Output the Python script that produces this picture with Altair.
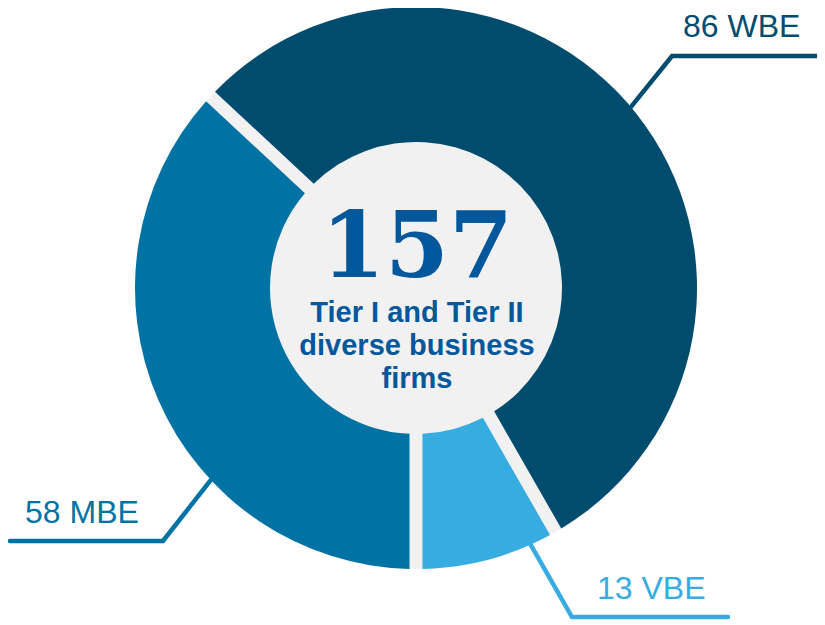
import math
import altair as alt
import pandas as pd

# ---- data ----
categories = ["VBE", "MBE", "WBE"]
values = [13, 58, 86]
label_texts = ["13 VBE", "58 MBE", "86 WBE"]
total_text = "157"
subtitle_lines = ["Tier I and Tier II", "diverse business", "firms"]

# ---- styles / layout ----
W, H = 809, 612
CX, CY = 408, 280
R_OUT, R_IN = 281, 146
GRAY = "#f1f1f1"
colors = {"VBE": "#36ace1", "MBE": "#0073a4", "WBE": "#004c6f"}
TEXT_BLUE = "#03579b"
start_deg = 180 - 360 * values[0] / sum(values)  # VBE/MBE boundary points straight down
start = math.radians(start_deg)

seg = pd.DataFrame({"cat": categories, "value": values, "ord": [0, 1, 2]})
theta_enc = alt.Theta("value:Q", stack=True,
                      scale=alt.Scale(range=[start, start + 2 * math.pi]))
cscale = alt.Scale(domain=categories, range=[colors[c] for c in categories])

base_full = alt.Chart(seg).mark_arc(
    outerRadius=R_OUT, innerRadius=0, color=GRAY, x=CX, y=CY
).encode(theta=theta_enc, order=alt.Order("ord:Q"))

ring = alt.Chart(seg).mark_arc(
    outerRadius=R_OUT, innerRadius=R_IN, padAngle=0.041, x=CX, y=CY
).encode(
    theta=theta_enc,
    color=alt.Color("cat:N", scale=cscale, legend=None),
    order=alt.Order("ord:Q"),
)

# leader lines: start on ring edge at a given angle, elbow, end
leader_angles = {"WBE": 50, "MBE": 227, "VBE": 156}
leader_elbow = {"WBE": (664, 48), "MBE": (155, 533), "VBE": (564, 609)}
leader_end = {"WBE": (809, 48), "MBE": (2, 533), "VBE": (720, 609)}
rows = []
for c in categories:
    a = math.radians(leader_angles[c])
    r = R_OUT - 3
    sx, sy = CX + r * math.sin(a), CY - r * math.cos(a)
    for i, (px, py) in enumerate([(sx, sy), leader_elbow[c], leader_end[c]]):
        rows.append({"cat": c, "i": i, "px": px, "py": py})
lead = pd.DataFrame(rows)

xs = alt.Scale(domain=[0, W], range=[0, W])
ys = alt.Scale(domain=[0, H], range=[0, H])

lines = alt.Chart(lead).mark_line(strokeWidth=4.5, strokeCap="round", strokeJoin="miter").encode(
    x=alt.X("px:Q", scale=xs, axis=None),
    y=alt.Y("py:Q", scale=ys, axis=None),
    color=alt.Color("cat:N", scale=cscale, legend=None),
    detail="cat:N",
    order="i:Q",
)

label_pos = {"WBE": (675, 29), "MBE": (17, 515), "VBE": (589, 591)}
lab = pd.DataFrame({
    "cat": categories,
    "t": label_texts,
    "px": [label_pos[c][0] for c in categories],
    "py": [label_pos[c][1] for c in categories],
})
labels = alt.Chart(lab).mark_text(
    align="left", baseline="alphabetic", font="Liberation Sans", fontSize=32
).encode(
    x=alt.X("px:Q", scale=xs, axis=None),
    y=alt.Y("py:Q", scale=ys, axis=None),
    text="t:N",
    color=alt.Color("cat:N", scale=cscale, legend=None),
)

big = alt.Chart(pd.DataFrame({"t": [total_text]})).mark_text(
    font="DejaVu Serif", fontWeight="bold", fontSize=92,
    color=TEXT_BLUE, align="center", baseline="alphabetic", x=CX + 1, y=269
).encode(text="t:N")

sub = alt.Chart(pd.DataFrame({"t": subtitle_lines, "k": [0, 1, 2]})).mark_text(
    font="Liberation Sans", fontWeight="bold", fontSize=29,
    color=TEXT_BLUE, align="center", baseline="alphabetic", x=CX + 1
).encode(
    text="t:N",
    y=alt.Y("k:Q", scale=alt.Scale(domain=[0, 2], range=[314, 380]), axis=None),
)

chart = alt.layer(base_full, ring, lines, labels, big, sub).resolve_scale(
    y="independent"
).properties(
    width=W, height=H, autosize="none", padding=0
).configure_view(stroke=None)

chart.save("out.html", embed_options={"renderer": "svg", "actions": False})
